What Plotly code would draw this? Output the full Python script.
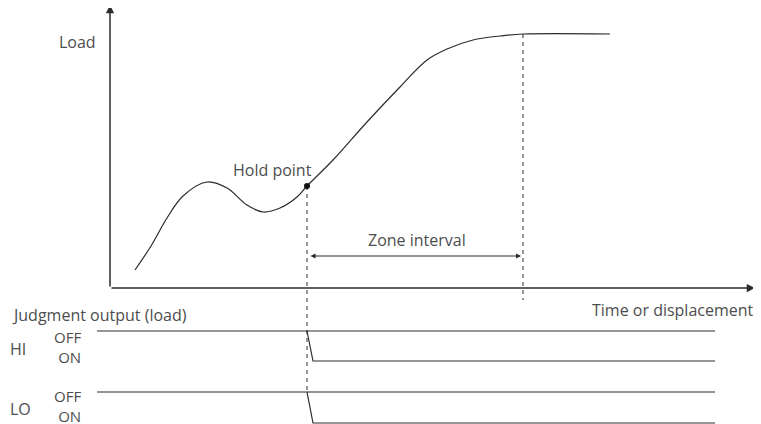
import plotly.graph_objects as go

# load curve (time or displacement vs load, arbitrary diagram units)
curve_t = [25, 41, 57, 73, 97, 117, 137, 153, 170, 187, 197, 223, 257, 290, 317, 337, 363, 390, 413, 500]
curve_load = [18, 42, 70, 92, 106, 100, 83, 76, 80, 91, 102, 128, 166, 201, 228, 239, 248, 252, 254, 254]

hold_t, hold_load = 197, 102
zone_end_t, zone_end_load = 413, 254
zone_arrow_load = 32

# judgment output timing rows
outputs = ["HI", "LO"]
off_levels = [-43, -104]
on_levels = [-73, -135]
signal_start, signal_end = -13, 605
switch_delay = 6

axis_x_end, axis_y_end = 645, 283

LINE = "#2b2b2b"
TEXT = "#4d4d4d"
FONT = "Open Sans"
FS = 16

fig = go.Figure()

fig.add_trace(go.Scatter(
    x=curve_t, y=curve_load, mode="lines",
    line=dict(color=LINE, width=1.2, shape="spline", smoothing=1.0),
    hoverinfo="skip",
))

# dashed markers at hold point and end of zone
fig.add_trace(go.Scatter(
    x=[hold_t, hold_t], y=[hold_load, off_levels[1]], mode="lines",
    line=dict(color=LINE, width=1, dash="4px,4px"), hoverinfo="skip",
))
fig.add_trace(go.Scatter(
    x=[zone_end_t, zone_end_t], y=[zone_end_load, -12], mode="lines",
    line=dict(color=LINE, width=1, dash="4px,4px"), hoverinfo="skip",
))

# output signals
for off, on in zip(off_levels, on_levels):
    fig.add_trace(go.Scatter(
        x=[signal_start, hold_t, hold_t + switch_delay, signal_end],
        y=[off, off, on, on], mode="lines",
        line=dict(color=LINE, width=1.2), hoverinfo="skip",
    ))
    fig.add_trace(go.Scatter(
        x=[hold_t, signal_end], y=[off, off], mode="lines",
        line=dict(color=LINE, width=1.2), hoverinfo="skip",
    ))

fig.add_trace(go.Scatter(
    x=[hold_t], y=[hold_load], mode="markers",
    marker=dict(color="#111", size=6), hoverinfo="skip",
))

anns = []
# axes arrows
anns.append(dict(x=0, y=axis_y_end, ax=0, ay=0, xref="x", yref="y", axref="x", ayref="y",
                 showarrow=True, arrowhead=2, arrowsize=1.1, arrowwidth=1.5, arrowcolor=LINE, text=""))
anns.append(dict(x=axis_x_end, y=0, ax=0, ay=0, xref="x", yref="y", axref="x", ayref="y",
                 showarrow=True, arrowhead=2, arrowsize=1.1, arrowwidth=1.5, arrowcolor=LINE, text=""))
# zone interval arrow
anns.append(dict(x=zone_end_t - 2, y=zone_arrow_load, ax=hold_t + 2, ay=zone_arrow_load,
                 xref="x", yref="y", axref="x", ayref="y", showarrow=True,
                 arrowhead=2, startarrowhead=2, arrowside="end+start", arrowsize=1, arrowwidth=1,
                 arrowcolor=LINE, text=""))


def label(x, y, text, anchor="center", align="center", size=FS):
    anns.append(dict(x=x, y=y, xref="x", yref="y", text=text, showarrow=False, align=align,
                     xanchor=anchor, yanchor="middle", font=dict(family=FONT, size=size, color=TEXT)))


label(-12, 246, "Load", "right")
label(162, 118, "Hold point")
label(307, 48, "Zone interval")
label(646, -22, "Time or displacement", "right")
label(-100, -27, "Judgment output (load)", "left")
for i, (name, off, on) in enumerate(zip(outputs, off_levels, on_levels)):
    mid = (off + on) / 2
    label(-102, mid - 3 + 2 * i, name, "left")
    label(-27, mid - 1 + 3 * i, "OFF<br>ON", "right", "right", 15)

# page body adds an 8px margin, so the figure is drawn slightly smaller
fig.update_layout(
    width=753, height=416,
    margin=dict(l=0, r=0, t=0, b=0),
    paper_bgcolor="white", plot_bgcolor="white",
    showlegend=False,
    annotations=anns,
    xaxis=dict(range=[-102, 651], visible=False, fixedrange=True),
    yaxis=dict(range=[-136, 280], visible=False, fixedrange=True),
)

fig.write_html("out.html")
